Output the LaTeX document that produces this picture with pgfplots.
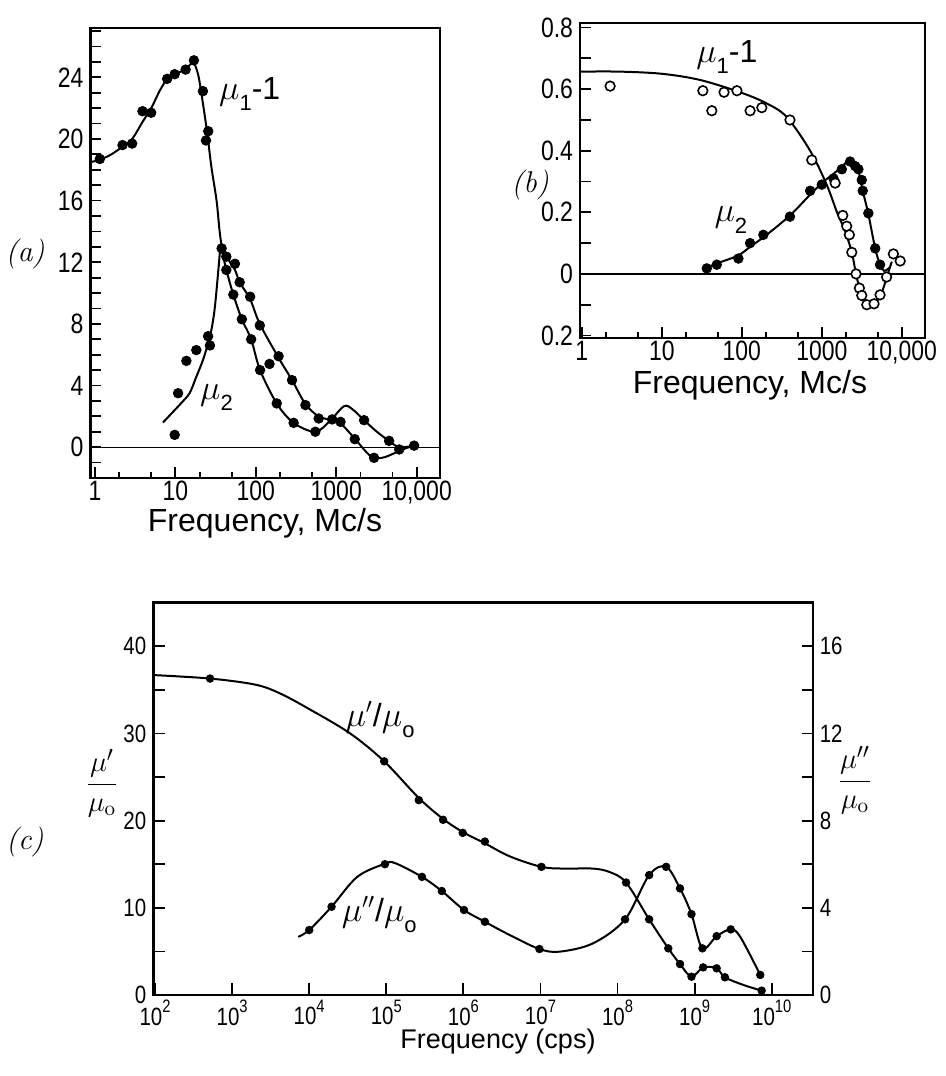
\documentclass[border=0pt]{standalone}
\usepackage{pgfplots}
\pgfplotsset{compat=1.18}
\usepackage{fontspec}
\newfontfamily\cond[FakeStretch=0.82]{Liberation Sans}
\newfontfamily\sans{Liberation Sans}
\newcommand\ssup[1]{\raisebox{0.5em}{\fontsize{9}{9}\selectfont#1}}
\newcommand\sub[1]{\raisebox{-0.35em}{\fontsize{11}{11}\selectfont#1}}

\pgfplotsset{
  panel/.style={
    scale only axis, anchor=south west,
    tick align=inside, tick pos=left,
    axis line style={line width=1.2pt},
    tick style={black, line width=0.9pt},
    major tick length=5.5pt, minor tick length=3pt,
  },
  dots/.style={only marks, mark=*, mark size=2.4pt, black},
  curve/.style={smooth, tension=0.55, line width=1pt, black, mark=none},
}

\begin{document}
\begin{tikzpicture}
\useasboundingbox (0,0) rectangle (473pt,538pt);

% ---- (a)
\begin{axis}[panel, xmode=log, at={(45.25pt,299pt)},
  width=174.75pt, height=225pt,
  xmin=0.88, xmax=19500, ymin=-2, ymax=27.2,
  xtick={1,10,100,1000,10000}, xticklabels={1,10,100,1000,{10,000}},
  minor xtick={2,5,20,50,200,500,2000,5000},
  ytick={0,4,...,24}, yticklabels={0,4,8,12,16,20,24},
  extra y ticks={-1,1,2,3,5,6,7,9,10,11,13,14,15,17,18,19,21,22,23,25,26,27},
  extra y tick labels={},
  tick label style={font=\cond\fontsize{14}{14}\selectfont},
  xticklabel style={yshift=2pt},
]
\draw[line width=0.6pt] (axis cs:0.88,0) -- (axis cs:19500,0);
\addplot[curve] coordinates {(0.88,18.5) (1.15,18.65) (1.6,19.0) (2.2,19.5) (2.9,20.0)
  (3.9,21.1) (5,22.0) (6.5,23.2) (8,23.9) (10,24.2) (13,24.5) (16,24.9) (17.5,24.8)
  (19.5,24.0) (22,22.3) (25,20.3) (28,18.2) (32.5,16.0) (35.5,14.0) (38.5,12.8)
  (43,12.36) (55,11.5) (63,10.7) (85,9.6) (112,8.0) (192,5.8) (282,4.35) (414,2.8)
  (605,2.0) (890,1.75) (1130,1.55) (1700,0.55) (2400,-0.35) (2950,-0.7) (4000,-0.65)
  (5750,-0.3) (7500,-0.05) (9300,0.1)};
\addplot[curve] coordinates {(7,1.6) (9,2.2) (12,2.9) (15,3.5) (18,4.5) (22,5.65)
  (25,6.6) (28,7.6) (30.5,8.8) (32.5,10.2) (34.5,11.7) (36.5,12.9) (40,12.2) (43,11.5)
  (52.5,9.9) (67,8.3) (87.5,7.0) (113,5.0) (182,2.84) (295,1.58) (550,1.0) (850,1.75)
  (1250,2.66) (1600,2.45) (2220,1.75) (3200,1.0) (4540,0.41) (6070,0.0) (9300,0.1)};
\addplot[dots] coordinates {(1.15,18.7) (2.2,19.6) (2.9,19.7) (3.9,21.8) (5.0,21.7)
  (7.9,23.9) (9.8,24.2) (13.4,24.5) (17,25.1) (22,23.1) (25.6,20.5) (24,19.9)
  (43,12.36) (55,11.9) (63,10.7) (85,9.76) (112,7.9) (192,5.9) (282,4.35) (414,2.73)
  (605,1.86) (890,1.8) (1130,1.64) (1700,0.52) (2950,-0.69) (6070,-0.15) (9300,0.1)};
\addplot[dots] coordinates {(9.8,0.8) (10.8,3.5) (13.7,5.6) (18.2,6.3) (25.5,7.2)
  (26.9,6.6) (37.6,12.9) (43,11.5) (52.5,9.9) (67,8.3) (87.5,7.0) (113,5.0) (148,5.4)
  (182,2.84) (295,1.58) (550,1.0) (2220,1.75) (4540,0.41)};
\node[font=\sans\fontsize{16}{16}\selectfont] at (axis cs:84,22.9) {$\mu$\sub{1}-1};
\node[font=\sans\fontsize{16}{16}\selectfont] at (axis cs:32.4,3.2) {$\mu$\sub{2}};
\end{axis}

% ---- (b)
\begin{axis}[panel, xmode=log, at={(290pt,368.85pt)},
  width=172.5pt, height=157.5pt,
  xmin=0.95, xmax=19500, ymin=-0.209, ymax=0.814,
  xtick={1,10,100,1000,10000}, xticklabels={1,10,100,1000,{10,000}},
  minor xtick={2,5,20,50,200,500,2000,5000},
  ytick={-0.2,0,0.2,0.4,0.6,0.8}, yticklabels={0.2,0,0.2,0.4,0.6,0.8},
  extra y ticks={-0.1,0.1,0.3,0.5,0.7}, extra y tick labels={},
  tick label style={font=\cond\fontsize{14}{14}\selectfont},
  xticklabel style={yshift=2pt},
]
\draw[line width=0.6pt] (axis cs:0.95,0) -- (axis cs:19500,0);
\addplot[curve] coordinates {(0.95,0.657) (3,0.657) (10,0.65) (30,0.63) (95,0.59)
  (200,0.555) (363,0.51) (715,0.40) (1150,0.29) (1550,0.20) (1950,0.14) (2370,0.07)
  (2680,0.0) (3000,-0.05) (3650,-0.10) (4650,-0.095) (5620,-0.06) (6500,-0.01) (7500,0.04)};
\addplot[curve] coordinates {(35,0.018) (50,0.035) (90,0.06) (130,0.09) (200,0.125)
  (400,0.19) (700,0.255) (1000,0.295) (1400,0.325) (1800,0.35) (2250,0.37) (2600,0.355)
  (2900,0.33) (3250,0.27) (3800,0.197) (4650,0.083) (5350,0.03) (6000,0.01) (7000,0.02)};
\addplot[dots] coordinates {(36.5,0.018) (48.7,0.03) (90.7,0.05) (127,0.10) (186,0.127)
  (400,0.186) (715,0.27) (1000,0.29) (1400,0.31) (1780,0.34) (2260,0.365) (2620,0.35)
  (2870,0.34) (3160,0.305) (3250,0.27) (3820,0.197) (4650,0.083) (5350,0.03)};
\addplot[dots, mark options={fill=white, line width=0.8pt}] coordinates {(2.26,0.61)
  (32.6,0.595) (42.2,0.53) (60,0.59) (87,0.595) (127,0.53) (178,0.54) (400,0.50)
  (750,0.37) (1470,0.295) (1830,0.19) (2050,0.155) (2210,0.127) (2370,0.07) (2680,0.0)
  (2950,-0.046) (3160,-0.07) (3650,-0.10) (4500,-0.097) (5350,-0.068) (6460,-0.01)
  (7850,0.065) (9550,0.042)};
\node[font=\sans\fontsize{16}{16}\selectfont] at (axis cs:65,0.705) {$\mu$\sub{1}-1};
\node[font=\sans\fontsize{16}{16}\selectfont] at (axis cs:73,0.175) {$\mu$\sub{2}};
\end{axis}

% ---- (c)
\begin{axis}[panel, xmode=log, at={(76.65pt,40.5pt)},
  width=329.7pt, height=196.15pt,
  xmin=95, xmax=3.4e10, ymin=0, ymax=45,
  xtick={1e2,1e3,1e4,1e5,1e6,1e7,1e8,1e9,1e10},
  xticklabels={10\ssup{2},10\ssup{3},10\ssup{4},10\ssup{5},10\ssup{6},10\ssup{7},10\ssup{8},10\ssup{9},10\ssup{10}},
  xminorticks=false,
  major tick length=6pt,
  ytick={0,10,20,30,40}, yticklabels={0,10,20,30,40},
  extra y ticks={5,15,25,35}, extra y tick labels={},
  tick label style={font=\cond\fontsize{12.5}{12.5}\selectfont},
  xticklabel style={yshift=1pt},
]
\addplot[curve] coordinates {(95,36.7) (517,36.3) (2000,35.6) (4170,34.6) (1e4,32.8)
  (3.4e4,30.0) (9.4e4,26.8) (2.64e5,22.6) (5.45e5,20.2) (9.8e5,18.7) (1.9e6,17.4)
  (4e6,15.9) (1.03e7,14.7) (2e7,14.5) (4.8e7,14.5) (7.9e7,14.1) (1.29e8,12.9)
  (2.57e8,8.68) (4.55e8,5.35) (6.46e8,3.55) (9.1e8,2.1) (1.29e9,3.17) (1.93e9,3.06)
  (2.47e9,2.03) (4.3e9,1.15) (7.4e9,0.5)};
\addplot[dots, mark size=1.9pt] coordinates {(517,36.3) (9.4e4,26.8) (2.64e5,22.35)
  (5.45e5,20.1) (9.8e5,18.6) (1.9e6,17.6) (1.03e7,14.7) (1.29e8,12.9) (2.57e8,8.68)
  (4.55e8,5.35) (6.46e8,3.55) (9.1e8,2.1) (1.29e9,3.17) (1.93e9,3.06) (2.47e9,2.03)
  (7.4e9,0.5)};
\node[font=\sans\fontsize{16}{16}\selectfont] at (axis cs:8.3e4,31.6) {$\mu'$/$\mu$\sub{o}};
\node[font=\sans\fontsize{16}{16}\selectfont] at (axis cs:8.1e4,9.25) {$\mu''$/$\mu$\sub{o}};
\end{axis}
\begin{axis}[panel, xmode=log, at={(76.65pt,40.5pt)},
  width=329.7pt, height=196.15pt,
  xmin=95, xmax=3.4e10, ymin=0, ymax=18,
  axis x line=none, axis y line*=right,
  ytick pos=right, yticklabel pos=right,
  ytick={0,4,8,12,16}, yticklabels={0,4,8,12,16},
  extra y ticks={2,6,10,14}, extra y tick labels={},
  tick label style={font=\cond\fontsize{12.5}{12.5}\selectfont},
]
\addplot[curve] coordinates {(7.2e3,2.67) (1e4,2.98) (1.95e4,4.05) (4.2e4,5.42)
  (9.6e4,6.02) (1.3e5,6.05) (2.9e5,5.42) (5.25e5,4.77) (1.02e6,3.9) (1.9e6,3.36)
  (4e6,2.75) (9.7e6,2.11) (1.78e7,1.99) (4.8e7,2.37) (1.25e8,3.47) (2.57e8,5.5)
  (4.27e8,5.88) (6.46e8,4.89) (9.1e8,3.71) (1.26e9,2.14) (1.93e9,2.70) (2.94e9,3.01)
  (3.9e9,2.67) (7.1e9,0.92)};
\addplot[dots, mark size=1.9pt] coordinates {(1e4,2.98) (1.95e4,4.05) (9.6e4,6.0)
  (2.9e5,5.42) (5.25e5,4.77) (1.02e6,3.9) (1.9e6,3.36) (9.7e6,2.11) (1.25e8,3.47)
  (2.57e8,5.5) (4.27e8,5.88) (6.46e8,4.89) (9.1e8,3.71) (1.26e9,2.14) (1.93e9,2.70)
  (2.94e9,3.01) (7.1e9,0.92)};
\end{axis}

% ---- labels outside the axes
\node[font=\itshape\fontsize{15}{15}\selectfont] at (12.5pt,411pt) {(a)};
\node[font=\itshape\fontsize{15}{15}\selectfont] at (265pt,445.5pt) {(b)};
\node[font=\itshape\fontsize{15}{15}\selectfont] at (12.5pt,117pt) {(c)};
\node[font=\sans\fontsize{16}{16}\selectfont] at (132.5pt,276.5pt) {Frequency, Mc/s};
\node[font=\sans\fontsize{16}{16}\selectfont] at (375pt,345.5pt) {Frequency, Mc/s};
\node[font=\sans\fontsize{13.5}{13.5}\selectfont] at (249pt,17pt) {Frequency (cps)};
\node[font=\fontsize{15}{15}\selectfont] at (51pt,146.5pt) {$\displaystyle\frac{\mu'}{\mu_{\mathrm{o}}}$};
\node[font=\fontsize{15}{15}\selectfont] at (427.5pt,148pt) {$\displaystyle\frac{\mu''}{\mu_{\mathrm{o}}}$};
\end{tikzpicture}
\end{document}
